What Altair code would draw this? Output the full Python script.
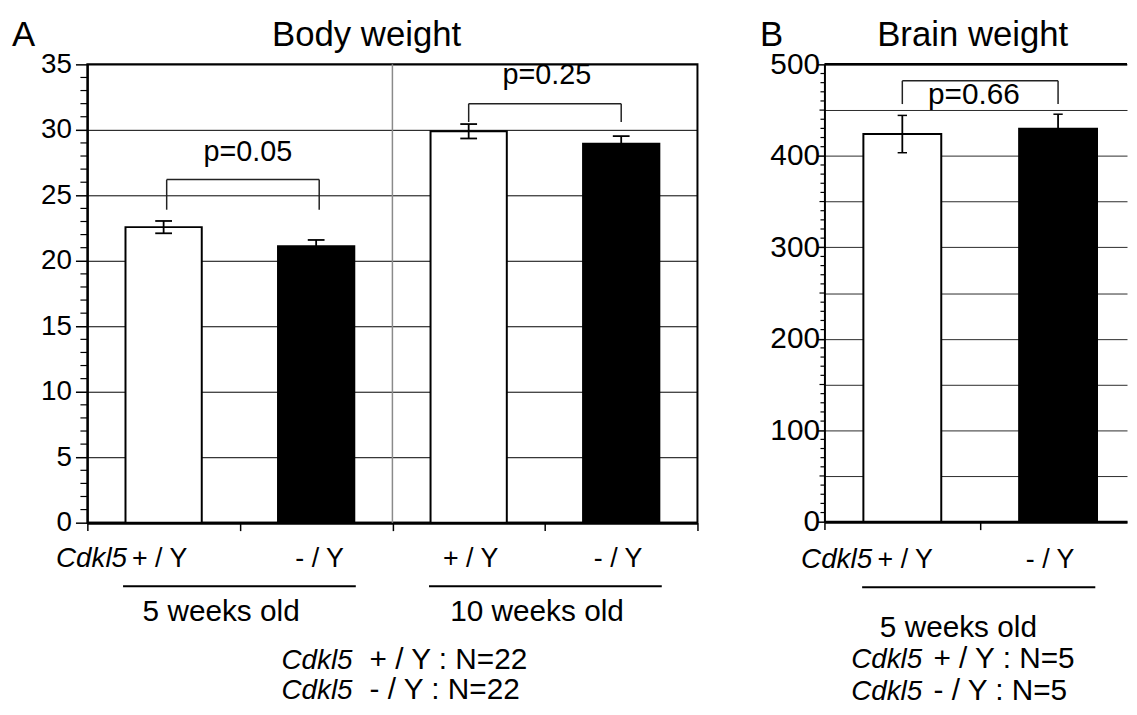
import altair as alt
import pandas as pd

FONT = "Liberation Sans"

# ---------------- data ----------------
gene = "Cdkl5"
a_title = "Body weight"
b_title = "Brain weight"

a_age = ["5 weeks old", "10 weeks old"]
a_genotype = ["+ / Y", "- / Y", "+ / Y", "- / Y"]
a_mean = [22.57, 21.11, 29.89, 28.94]
a_sem = [0.47, 0.48, 0.55, 0.58]
a_pvalue = ["p=0.05", "p=0.25"]
a_n = ["+ / Y : N=22", "- / Y : N=22"]

b_age = ["5 weeks old"]
b_genotype = ["+ / Y", "- / Y"]
b_mean = [423.8, 429.5]
b_sem = [20.4, 16.0]
b_pvalue = ["p=0.66"]
b_n = ["+ / Y : N=5", "- / Y : N=5"]

a_yticks = [0, 5, 10, 15, 20, 25, 30, 35]
b_yticks = [0, 50, 100, 150, 200, 250, 300, 350, 400, 450, 500]

# ---------------- layout ----------------
A_W, A_H = 615, 462
B_W, B_H = 305, 461
B_UNIT = 157  # px per category slot in panel B
A_PX = A_W / 4          # px per x unit, panel A
A_PY = A_H / 35         # px per y unit, panel A
B_PY = B_H / 500        # px per y unit, panel B

fill_scale = alt.Scale(domain=["+ / Y", "- / Y"], range=["white", "black"])

frame_a = dict(
    xs=alt.Scale(domain=[0, 4], nice=False, zero=False),
    ys=alt.Scale(domain=[0, 35], nice=False, zero=False),
    xax=alt.Axis(values=[0, 1, 2, 3, 4], labels=False, tickSize=8, tickColor="black",
                 tickWidth=1.5, domainColor="black", domainWidth=3, grid=False, title=None),
    yax=alt.Axis(values=a_yticks, labelFontSize=28, labelFont=FONT, labelColor="black",
                 labelPadding=4, tickSize=12, tickColor="black", tickWidth=1.5,
                 domainColor="black", domainWidth=2, grid=True, gridColor="black",
                 gridWidth=1, title=None, labelOverlap=False),
)
frame_b = dict(
    xs=alt.Scale(domain=[0, B_W / B_UNIT], nice=False, zero=False),
    ys=alt.Scale(domain=[0, 500], nice=False, zero=False),
    xax=alt.Axis(values=[0, 1], labels=False, tickSize=8, tickColor="black",
                 tickWidth=1.5, domainColor="black", domainWidth=3, grid=False, title=None),
    yax=alt.Axis(values=b_yticks, labelExpr="datum.value % 100 === 0 ? datum.label : ''",
                 labelFontSize=30, labelFont=FONT, labelColor="black", labelPadding=-3,
                 tickSize=8, tickColor="black", tickWidth=1.5,
                 tickOpacity={"condition": {"test": "datum.value % 100 === 0", "value": 1}, "value": 0},
                 domainColor="black", domainWidth=2, grid=True, gridColor="#2a2a2a",
                 gridWidth=1, title=None, labelOverlap=False),
)


def X(field, f):
    return alt.X(field, type="quantitative", scale=f["xs"], axis=f["xax"])


def Y(field, f):
    return alt.Y(field, type="quantitative", scale=f["ys"], axis=f["yax"])


def bar_table(genotypes, means, sems, cap):
    rows = []
    for i, (g, m, s) in enumerate(zip(genotypes, means, sems)):
        c = i + 0.5
        rows.append(dict(genotype=g, mean=m, zero=0, x0=c - 0.25, x1=c + 0.25, c=c,
                         lo=m - s, hi=m + s, cl=c - cap, cr=c + cap))
    return pd.DataFrame(rows)


def texts(df, f, size, align="center", italic=False):
    return alt.Chart(df).mark_text(
        font=FONT, fontSize=size, align=align, baseline="alphabetic",
        fontStyle="italic" if italic else "normal", color="black"
    ).encode(x=X("x", f), y=Y("y", f), text="label:N")


def rules(df, f, width=1.5, color="black"):
    return alt.Chart(df).mark_rule(color=color, strokeWidth=width).encode(
        x=X("x", f), x2="x2:Q", y=Y("y", f), y2="y2:Q")


def panel_layers(bars, f, minor_vals, minor_len, cap_w):
    base = alt.Chart(bars)
    bar_layer = base.mark_rect(stroke="black", strokeWidth=2).encode(
        x=X("x0", f), x2="x1:Q", y=Y("mean", f), y2="zero:Q",
        fill=alt.Fill("genotype:N", scale=fill_scale, legend=None),
    )
    err = base.mark_rule(color="black", strokeWidth=1.8).encode(
        x=X("c", f), y=Y("lo", f), y2="hi:Q")
    cap_hi = base.mark_rule(color="black", strokeWidth=cap_w).encode(
        x=X("cl", f), x2="cr:Q", y=Y("hi", f))
    cap_lo = base.mark_rule(color="black", strokeWidth=cap_w).encode(
        x=X("cl", f), x2="cr:Q", y=Y("lo", f))
    minor = alt.Chart(pd.DataFrame({"v": minor_vals})).mark_rule(
        color="black", strokeWidth=1.2
    ).encode(x=alt.value(-minor_len), x2=alt.value(0), y=Y("v", f))
    return bar_layer, [err, cap_hi, cap_lo, minor]


# ---------------- panel A ----------------
fa = frame_a
bars_a = bar_table(a_genotype, a_mean, a_sem, 0.055)
bar_a, extra_a = panel_layers(bars_a, fa, [v for v in range(0, 36) if v % 5], 7, 1.8)

divider_a = rules(pd.DataFrame([dict(x=2, x2=2, y=0, y2=35)]), fa, width=1.5, color="#8a8a8a")

brackets_a = pd.DataFrame([
    dict(x=0.52, x2=1.52, y=26.2, y2=26.2), dict(x=0.52, x2=0.52, y=26.2, y2=23.9),
    dict(x=1.52, x2=1.52, y=26.2, y2=23.9),
    dict(x=2.5, x2=3.5, y=32.0, y2=32.0), dict(x=2.5, x2=2.5, y=32.0, y2=30.6),
    dict(x=3.5, x2=3.5, y=32.0, y2=30.6),
])
under_a = pd.DataFrame([dict(x=0.234, x2=1.76, y=-4.85, y2=-4.85),
                        dict(x=2.24, x2=3.766, y=-4.85, y2=-4.85)])

head_y_a = 35 + 19 / A_PY
t_a_head = pd.DataFrame([dict(label="A", x=-76 / A_PX, y=head_y_a)])
t_a_title = pd.DataFrame([dict(label=a_title, x=1.831, y=head_y_a)])
t_a_p = pd.DataFrame([dict(label=a_pvalue[0], x=1.052, y=27.63),
                      dict(label=a_pvalue[1], x=3.013, y=33.48)])
t_a_geno = pd.DataFrame([dict(label=g, x=x, y=-3.41)
                         for g, x in zip(a_genotype, [0.474, 1.523, 2.513, 3.48])])
t_a_gene = pd.DataFrame([dict(label=gene, x=0.26, y=-3.41)])
t_a_age = pd.DataFrame([dict(label=a_age[0], x=0.877, y=-7.5),
                        dict(label=a_age[1], x=2.948, y=-7.5)])
t_a_ngene = pd.DataFrame([dict(label=gene, x=1.273, y=-11.14),
                          dict(label=gene, x=1.273, y=-13.48)])
t_a_n = pd.DataFrame([dict(label=a_n[0], x=1.85, y=-11.14),
                      dict(label=a_n[1], x=1.85, y=-13.48)])

panel_a = alt.layer(
    bar_a, divider_a, *extra_a,
    rules(brackets_a, fa, width=1.5, color="#222222"),
    rules(under_a, fa, width=2),
    texts(t_a_head, fa, 35, align="left"),
    texts(t_a_title, fa, 35),
    texts(t_a_p, fa, 29),
    texts(t_a_geno, fa, 27),
    texts(t_a_gene, fa, 28, align="right", italic=True),
    texts(t_a_age, fa, 30),
    texts(t_a_ngene, fa, 28, align="left", italic=True),
    texts(t_a_n, fa, 30, align="left"),
).properties(width=A_W, height=A_H,
             view=alt.ViewBackground(stroke="black", strokeWidth=2))

# ---------------- panel B ----------------
fb = frame_b
bars_b = bar_table(b_genotype, b_mean, b_sem, 0.03)
bar_b, extra_b = panel_layers(bars_b, fb, [v for v in range(0, 501, 10) if v % 100 and v % 50], 4, 1.5)
mid_b = alt.Chart(pd.DataFrame({"v": [v for v in range(50, 501, 100)]})).mark_rule(
    color="black", strokeWidth=1.2).encode(x=alt.value(-5), x2=alt.value(0), y=Y("v", fb))

top_b = rules(pd.DataFrame([dict(x=0, x2=B_W / B_UNIT, y=500, y2=500)]), fb, width=2.5)

brackets_b = pd.DataFrame([
    dict(x=0.5, x2=1.5, y=482, y2=482), dict(x=0.5, x2=0.5, y=482, y2=456.6),
    dict(x=1.5, x2=1.5, y=482, y2=456.6),
])
under_b = pd.DataFrame([dict(x=0.242, x2=1.739, y=-71.6, y2=-71.6)])

head_y_b = 500 + 19 / B_PY
t_b_head = pd.DataFrame([dict(label="B", x=-0.414, y=head_y_b)])
t_b_title = pd.DataFrame([dict(label=b_title, x=0.952, y=head_y_b)])
t_b_p = pd.DataFrame([dict(label=b_pvalue[0], x=0.96, y=456.6)])
t_b_geno = pd.DataFrame([dict(label=g, x=x, y=-51)
                         for g, x in zip(b_genotype, [0.519, 1.449])])
t_b_gene = pd.DataFrame([dict(label=gene, x=0.306, y=-51)])
t_b_age = pd.DataFrame([dict(label=b_age[0], x=0.86, y=-125.8)])
t_b_ngene = pd.DataFrame([dict(label=gene, x=0.172, y=-160.5),
                          dict(label=gene, x=0.172, y=-195.2)])
t_b_n = pd.DataFrame([dict(label=b_n[0], x=0.70, y=-160.5),
                      dict(label=b_n[1], x=0.70, y=-195.2)])

panel_b = alt.layer(
    bar_b, *extra_b, mid_b, top_b,
    rules(brackets_b, fb, width=1.5, color="#222222"),
    rules(under_b, fb, width=2),
    texts(t_b_head, fb, 35, align="left"),
    texts(t_b_title, fb, 35),
    texts(t_b_p, fb, 30),
    texts(t_b_geno, fb, 27),
    texts(t_b_gene, fb, 28, align="right", italic=True),
    texts(t_b_age, fb, 30),
    texts(t_b_ngene, fb, 28, align="left", italic=True),
    texts(t_b_n, fb, 30, align="left"),
).properties(width=B_W, height=B_H,
             view=alt.ViewBackground(stroke=None))

chart = alt.hconcat(panel_a, panel_b, spacing=128, bounds="flush").properties(
    padding={"left": 3, "top": 6, "right": 0, "bottom": 0},
    background="white",
).configure_view(stroke=None)

chart.save("out.html", embed_options={"renderer": "svg", "actions": False})
